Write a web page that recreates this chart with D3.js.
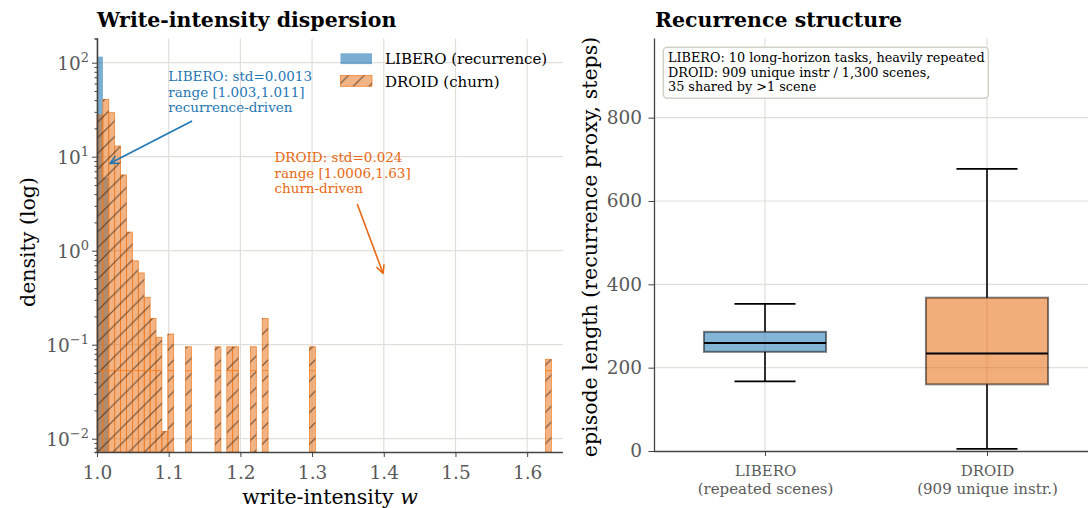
<!DOCTYPE html>
<html>
<head>
<meta charset="utf-8">
<script src="https://cdn.jsdelivr.net/npm/d3@7/dist/d3.min.js"></script>
<style>
body { margin: 0; background: #fff; }
text { font-family: "DejaVu Serif", serif; }
</style>
</head>
<body>
<svg id="chart" width="1088" height="508"></svg>
<script>
// histogram of write-intensity w (shared bins, density on log y)
var binStart = 1.0
var binWidth = 0.00823
var liberoBins = [0, 1]
var liberoDensity = [116, 6.0]
var droidBins = [0, 1, 2, 3, 4, 5, 6, 7, 8, 9, 10, 11, 12, 15, 20, 22, 23, 26, 28, 36, 76]
var droidDensity = [27.8, 40.8, 29.4, 13.0, 6.4, 1.58, 0.78, 0.58, 0.32, 0.19, 0.12, 0.012, 0.13,
                    0.095, 0.095, 0.095, 0.095, 0.095, 0.19, 0.095, 0.07]
var wTicks = [1.0, 1.1, 1.2, 1.3, 1.4, 1.5, 1.6]
var densityExp = [-2, -1, 0, 1, 2]

// episode length boxes
var boxNames = ["LIBERO", "DROID"]
var boxSubs = ["(repeated scenes)", "(909 unique instr.)"]
var boxLo = [167, 5]
var boxQ1 = [238, 160]
var boxMed = [259, 234]
var boxQ3 = [286, 368]
var boxHi = [353, 677]
var lenTicks = [0, 200, 400, 600, 800]

var infoLines = ["LIBERO: 10 long-horizon tasks, heavily repeated",
                 "DROID: 909 unique instr / 1,300 scenes,",
                 "35 shared by >1 scene"]
var liberoNote = ["LIBERO: std=0.0013", "range [1.003,1.011]", "recurrence-driven"]
var droidNote = ["DROID: std=0.024", "range [1.0006,1.63]", "churn-driven"]

var BLUE = "#1f77b4", ORANGE = "#e6690c", NOTE_ORANGE = "#e8680f"
var GRID = "#e2dfd9", SPINE = "#444", TICKTXT = "#5a5a5a"
var TICK_FS = "18.5px", LABEL_FS = "20.5px", TITLE_FS = "20.5px"

var svg = d3.select("#chart")
var defs = svg.append("defs")

var hatch = defs.append("pattern").attr("id", "hatch")
    .attr("patternUnits", "userSpaceOnUse").attr("width", 15.7).attr("height", 15.7)
hatch.append("path").attr("d", "M-2,17.7 L17.7,-2 M-4,4 L4,-4 M11.7,19.7 L19.7,11.7")
    .style("stroke", "#3b2616").style("stroke-opacity", 0.75).style("stroke-width", 1.1)

function add_arrow_marker(id, color) {
    defs.append("marker").attr("id", id)
        .attr("viewBox", "0 0 10 10").attr("refX", 9).attr("refY", 5)
        .attr("markerWidth", 10).attr("markerHeight", 10)
        .attr("markerUnits", "userSpaceOnUse").attr("orient", "auto")
      .append("path").attr("d", "M1,1 L9,5 L1,9")
        .style("fill", "none").style("stroke", color).style("stroke-width", 1.6)
}
add_arrow_marker("arrow-blue", BLUE)
add_arrow_marker("arrow-orange", NOTE_ORANGE)

// ---------------- left: histogram ----------------
var L = {left: 97, right: 563, top: 38.5, bottom: 452}
var x = d3.scaleLinear().domain([1.0, 1.65]).range([L.left, L.right])
var y = d3.scaleLog().domain([Math.pow(10, -2.1415), Math.pow(10, 2.2574)]).range([L.bottom, L.top])

var left = svg.append("g")

left.selectAll(".hgrid").data(densityExp).enter().append("line")
    .attr("x1", L.left).attr("x2", L.right)
    .attr("y1", d => y(Math.pow(10, d))).attr("y2", d => y(Math.pow(10, d)))
    .style("stroke", GRID).style("stroke-width", 1.2)
left.selectAll(".vgrid").data(wTicks).enter().append("line")
    .attr("x1", d => x(d)).attr("x2", d => x(d))
    .attr("y1", L.top).attr("y2", L.bottom)
    .style("stroke", GRID).style("stroke-width", 1.2)

function bin_x0(i) { return x(binStart + i * binWidth) }
function bin_x1(i) { return x(binStart + (i + 1) * binWidth) }

left.selectAll(".libero-bar").data(liberoBins).enter().append("rect")
    .attr("x", d => bin_x0(d))
    .attr("width", d => bin_x1(d) - bin_x0(d))
    .attr("y", (d, i) => y(liberoDensity[i]))
    .attr("height", (d, i) => L.bottom - y(liberoDensity[i]))
    .style("fill", BLUE).style("fill-opacity", 0.6)

var droidG = left.append("g")
droidG.selectAll(".droid-bar").data(droidBins).enter().append("rect")
    .attr("x", d => bin_x0(d))
    .attr("width", d => bin_x1(d) - bin_x0(d))
    .attr("y", (d, i) => y(droidDensity[i]))
    .attr("height", (d, i) => L.bottom - y(droidDensity[i]))
    .style("fill", ORANGE).style("fill-opacity", 0.5)
    .style("stroke", "#ef7a1e").style("stroke-width", 0.7)
droidG.selectAll(".droid-hatch").data(droidBins).enter().append("rect")
    .attr("x", d => bin_x0(d))
    .attr("width", d => bin_x1(d) - bin_x0(d))
    .attr("y", (d, i) => y(droidDensity[i]))
    .attr("height", (d, i) => L.bottom - y(droidDensity[i]))
    .style("fill", "url(#hatch)")
droidG.selectAll(".droid-mid").data(droidBins.filter((d, i) => droidDensity[i] > 0.053)).enter().append("line")
    .attr("x1", d => bin_x0(d)).attr("x2", d => bin_x1(d))
    .attr("y1", y(0.053)).attr("y2", y(0.053))
    .style("stroke", "#ef7a1e").style("stroke-width", 0.8)

// axes
var xAxis = d3.axisBottom(x).tickValues(wTicks).tickSize(5).tickPadding(9).tickFormat(d3.format(".1f"))
var gx = left.append("g").attr("transform", "translate(0," + L.bottom + ")").call(xAxis)
var minorTicks = []
densityExp.concat([-3]).forEach(function(e) {
    for (var k = 2; k <= 9; k++) {
        var v = k * Math.pow(10, e)
        if (v > y.domain()[0] && v < y.domain()[1]) minorTicks.push(v)
    }
})
var yAxisMinor = d3.axisLeft(y).tickValues(minorTicks).tickSize(2.5).tickFormat("")
var yAxis = d3.axisLeft(y).tickValues(densityExp.map(e => Math.pow(10, e))).tickSize(5).tickFormat("")
left.append("g").attr("transform", "translate(" + L.left + ",0)").call(yAxisMinor)
var gy = left.append("g").attr("transform", "translate(" + L.left + ",0)").call(yAxis)

gy.selectAll(".tick").each(function(d) {
    var e = Math.round(Math.log10(d))
    var t = d3.select(this).append("text").attr("x", -8).attr("y", 6.5)
        .attr("text-anchor", "end").style("fill", TICKTXT).style("font-size", TICK_FS)
    t.append("tspan").text("10")
    t.append("tspan").attr("dy", -8).style("font-size", "13px").text(e < 0 ? "\u2212" + (-e) : e)
})

gx.selectAll(".tick text").style("fill", TICKTXT).style("font-size", TICK_FS).style("font-family", "DejaVu Serif")
gx.select(".domain").attr("d", "M" + L.left + ",0.5H" + L.right)
gy.select(".domain").attr("d", "M0.5," + L.top + "V" + L.bottom)
left.selectAll(".domain").style("stroke", SPINE).style("stroke-width", 1.3)
left.selectAll(".tick line").style("stroke", SPINE)

left.append("text").attr("x", L.left).attr("y", 26.5)
    .style("font-weight", "bold").style("font-size", TITLE_FS).text("Write-intensity dispersion")
var xl = left.append("text").attr("x", (L.left + L.right) / 2).attr("y", 503.5)
    .attr("text-anchor", "middle").style("font-size", LABEL_FS)
xl.append("tspan").text("write-intensity ")
xl.append("tspan").style("font-style", "italic").text("w")
left.append("text").attr("transform", "translate(35,242) rotate(-90)")
    .attr("text-anchor", "middle").style("font-size", LABEL_FS).text("density (log)")

// legend
var legend = left.append("g")
legend.append("rect").attr("x", 340.5).attr("y", 53.3).attr("width", 31.5).attr("height", 10.8)
    .style("fill", BLUE).style("fill-opacity", 0.6)
legend.append("rect").attr("x", 340.5).attr("y", 75.5).attr("width", 31.5).attr("height", 10.8)
    .style("fill", ORANGE).style("fill-opacity", 0.5).style("stroke", "#ef7a1e").style("stroke-width", 0.7)
legend.append("rect").attr("x", 340.5).attr("y", 75.5).attr("width", 31.5).attr("height", 10.8)
    .style("fill", "url(#hatch)")
legend.append("text").attr("x", 385).attr("y", 64).style("font-size", "15px").text("LIBERO (recurrence)")
legend.append("text").attr("x", 385).attr("y", 86.5).style("font-size", "15px").text("DROID (churn)")

// annotations
function note(lines, tx, ty, color) {
    var t = left.append("text").style("fill", color).style("font-size", "13.5px")
    lines.forEach(function(s, i) {
        t.append("tspan").attr("x", x(tx)).attr("y", y(ty) + i * 15.7).text(s)
    })
}
note(liberoNote, 1.0995, 64, BLUE)
note(droidNote, 1.2475, 8.8, NOTE_ORANGE)
left.append("line").attr("x1", x(1.1326)).attr("y1", y(24)).attr("x2", x(1.0183)).attr("y2", y(8.5))
    .style("stroke", BLUE).style("stroke-width", 1.6).attr("marker-end", "url(#arrow-blue)")
left.append("line").attr("x1", x(1.363)).attr("y1", y(3.14)).attr("x2", x(1.399)).attr("y2", y(0.575))
    .style("stroke", NOTE_ORANGE).style("stroke-width", 1.6).attr("marker-end", "url(#arrow-orange)")

// ---------------- right: box plot ----------------
var R = {left: 654, right: 1098, top: 38.5, bottom: 451}
var bx = d3.scaleLinear().domain([0.5, 2.5]).range([R.left, R.right])
var by = d3.scaleLinear().domain([0, 990]).range([R.bottom, R.top])
var right = svg.append("g")
var pos = boxNames.map((d, i) => i + 1)

right.selectAll(".hgrid").data(lenTicks.slice(1)).enter().append("line")
    .attr("x1", R.left).attr("x2", R.right).attr("y1", d => by(d)).attr("y2", d => by(d))
    .style("stroke", GRID).style("stroke-width", 1.2)
right.selectAll(".vgrid").data(pos).enter().append("line")
    .attr("x1", d => bx(d)).attr("x2", d => bx(d)).attr("y1", R.top).attr("y2", R.bottom)
    .style("stroke", GRID).style("stroke-width", 1.2)

var boxW = 0.55
var boxColors = [BLUE, ORANGE]
pos.forEach(function(p, i) {
    var g = right.append("g")
    g.append("line").attr("x1", bx(p)).attr("x2", bx(p)).attr("y1", by(boxQ3[i])).attr("y2", by(boxHi[i]))
        .style("stroke", "#000").style("stroke-width", 1.6)
    g.append("line").attr("x1", bx(p)).attr("x2", bx(p)).attr("y1", by(boxQ1[i])).attr("y2", by(boxLo[i]))
        .style("stroke", "#000").style("stroke-width", 1.6)
    ;[boxLo[i], boxHi[i]].forEach(function(v) {
        g.append("line").attr("x1", bx(p - boxW / 4)).attr("x2", bx(p + boxW / 4))
            .attr("y1", by(v)).attr("y2", by(v))
            .style("stroke", "#000").style("stroke-width", 1.6)
    })
    g.append("rect").attr("x", bx(p - boxW / 2)).attr("width", bx(p + boxW / 2) - bx(p - boxW / 2))
        .attr("y", by(boxQ3[i])).attr("height", by(boxQ1[i]) - by(boxQ3[i]))
        .style("fill", boxColors[i]).style("fill-opacity", 0.55)
        .style("stroke", "#000").style("stroke-opacity", 0.5).style("stroke-width", 2)
    g.append("line").attr("x1", bx(p - boxW / 2)).attr("x2", bx(p + boxW / 2))
        .attr("y1", by(boxMed[i])).attr("y2", by(boxMed[i]))
        .style("stroke", "#000").style("stroke-width", 2)
})

var gbx = right.append("g").attr("transform", "translate(0," + R.bottom + ")")
    .call(d3.axisBottom(bx).tickValues(pos).tickSize(5).tickFormat(""))
gbx.select(".domain").attr("d", "M" + R.left + ",0.5H" + R.right)
gbx.selectAll(".tick").each(function(d, i) {
    var t = d3.select(this).append("text").attr("text-anchor", "middle")
        .style("fill", TICKTXT).style("font-size", "15px")
    t.append("tspan").attr("x", 0).attr("y", 25).text(boxNames[i])
    t.append("tspan").attr("x", 0).attr("y", 43).text(boxSubs[i])
})
var gby = right.append("g").attr("transform", "translate(" + R.left + ",0)")
    .call(d3.axisLeft(by).tickValues(lenTicks).tickSize(5.5).tickPadding(6.5))
gby.select(".domain").attr("d", "M0.5," + R.top + "V" + R.bottom)
gby.selectAll(".tick text").style("fill", TICKTXT).style("font-size", TICK_FS).style("font-family", "DejaVu Serif")
right.selectAll(".domain").style("stroke", SPINE).style("stroke-width", 1.3)
right.selectAll(".tick line").style("stroke", SPINE)

right.append("text").attr("x", R.left + 1).attr("y", 26.5)
    .style("font-weight", "bold").style("font-size", TITLE_FS).text("Recurrence structure")
right.append("text").attr("transform", "translate(597,247) rotate(-90)")
    .attr("text-anchor", "middle").style("font-size", LABEL_FS)
    .text("episode length (recurrence proxy, steps)")

var info = right.append("g")
info.append("rect").attr("x", 663.3).attr("y", 47.3).attr("width", 325).attr("height", 51)
    .attr("rx", 4).style("fill", "#fff").style("stroke", "#d4d0c8").style("stroke-width", 1.5)
var it = info.append("text").style("font-size", "12.8px")
infoLines.forEach(function(s, i) {
    it.append("tspan").attr("x", 668).attr("y", 62 + i * 14.6).text(s)
})
</script>
</body>
</html>
